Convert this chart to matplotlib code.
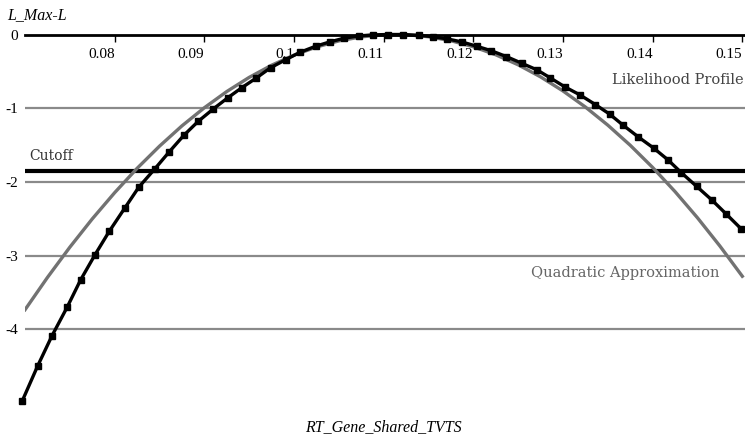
import matplotlib
matplotlib.use("Agg")
import matplotlib.pyplot as plt

# Likelihood profile (squares)
profile_x = [0.0697, 0.0714, 0.0730, 0.0747, 0.0762, 0.0778, 0.0794, 0.0811, 0.0827, 0.0845,
             0.0861, 0.0877, 0.0893, 0.0910, 0.0926, 0.0942, 0.0958, 0.0974, 0.0991, 0.1007,
             0.1024, 0.1040, 0.1056, 0.1072, 0.1088, 0.1105, 0.1122, 0.1139, 0.1155, 0.1171,
             0.1187, 0.1204, 0.1220, 0.1237, 0.1254, 0.1271, 0.1286, 0.1302, 0.1319, 0.1336,
             0.1352, 0.1367, 0.1384, 0.1401, 0.1417, 0.1432, 0.1449, 0.1466, 0.1482, 0.1499]
profile_y = [-4.97, -4.50, -4.09, -3.70, -3.33, -2.99, -2.67, -2.36, -2.07, -1.82,
             -1.59, -1.37, -1.18, -1.01, -0.86, -0.72, -0.59, -0.45, -0.34, -0.24,
             -0.16, -0.10, -0.05, -0.02, -0.005, 0.00, 0.00, -0.01, -0.03, -0.06,
             -0.10, -0.16, -0.22, -0.30, -0.39, -0.48, -0.59, -0.71, -0.82, -0.95,
             -1.08, -1.23, -1.39, -1.54, -1.70, -1.875, -2.06, -2.245, -2.435, -2.64]

# Quadratic approximation (gray curve)
quad_x = [0.0700, 0.0725, 0.0750, 0.0775, 0.0800, 0.0825, 0.0850, 0.0875, 0.0900, 0.0925,
          0.0950, 0.0975, 0.1000, 0.1025, 0.1050, 0.1075, 0.1100, 0.1125, 0.1150, 0.1175,
          0.1200, 0.1225, 0.1250, 0.1275, 0.1300, 0.1325, 0.1350, 0.1375, 0.1400, 0.1425,
          0.1450, 0.1475, 0.1500]
quad_y = [-3.735, -3.297, -2.886, -2.502, -2.146, -1.816, -1.515, -1.240, -0.994, -0.774,
          -0.582, -0.417, -0.280, -0.170, -0.087, -0.032, -0.004, -0.003, -0.030, -0.084,
          -0.166, -0.275, -0.411, -0.575, -0.766, -0.984, -1.230, -1.503, -1.804, -2.132,
          -2.487, -2.870, -3.280]

cutoff = -1.85

x_ticks = [0.08, 0.09, 0.10, 0.11, 0.12, 0.13, 0.14, 0.15]
x_tick_labels = ["0.08", "0.09", "0.1", "0.11", "0.12", "0.13", "0.14", "0.15"]
y_ticks = [0, -1, -2, -3, -4]
y_tick_labels = ["0", "-1", "-2", "-3", "-4"]

W, H = 745, 438
fig = plt.figure(figsize=(W / 100, H / 100), dpi=100)
ax = fig.add_axes([25 / W, 1 - 406.7 / H, 720 / W, 372.2 / H])
ax.set_xlim(0.07, 0.1503)
ax.set_ylim(-5.05, 0)

for s in ["left", "right", "bottom"]:
    ax.spines[s].set_visible(False)
ax.spines["top"].set_linewidth(2.0)
ax.spines["top"].set_color("black")
ax.spines["top"].set_zorder(3)

ax.set_axisbelow(True)
ax.set_yticks(y_ticks)
ax.set_yticklabels(y_tick_labels, fontfamily="Liberation Serif", fontsize=11)
ax.yaxis.grid(True, color="#8a8a8a", linewidth=1.6)
ax.tick_params(axis="y", length=0, pad=5)

ax.xaxis.set_ticks_position("top")
ax.set_xticks(x_ticks)
ax.set_xticklabels(x_tick_labels, fontfamily="Liberation Serif", fontsize=11, ha="right")
ax.tick_params(axis="x", direction="in", length=5, width=1.0, pad=-19,
               top=True, bottom=False, labeltop=True, labelbottom=False)

ax.axhline(cutoff, color="black", linewidth=3.0, zorder=2)
ax.plot(quad_x, quad_y, color="#727272", linewidth=2.4, zorder=2.5)
ax.plot(profile_x, profile_y, color="black", linewidth=2.4, marker="s",
        markersize=4.6, zorder=4, clip_on=False)

ax.text(0.0705, cutoff + 0.1, "Cutoff", fontfamily="DejaVu Serif", fontsize=10,
        color="#333333", va="bottom", ha="left")
ax.text(0.1502, -0.62, "Likelihood Profile", fontfamily="DejaVu Serif", fontsize=10.5,
        color="#444444", va="center", ha="right")
ax.text(0.1475, -3.23, "Quadratic Approximation", fontfamily="DejaVu Serif", fontsize=10.5,
        color="#666666", va="center", ha="right")

fig.text(7 / W, 1 - 15 / H, "L_Max-L", fontfamily="Liberation Serif", fontstyle="italic",
         fontsize=11.5, va="center", ha="left")
fig.text(383 / W, 1 - 427 / H, "RT_Gene_Shared_TVTS", fontfamily="Liberation Serif",
         fontstyle="italic", fontsize=11.5, va="center", ha="center")

fig.savefig("out.png", dpi=100)
